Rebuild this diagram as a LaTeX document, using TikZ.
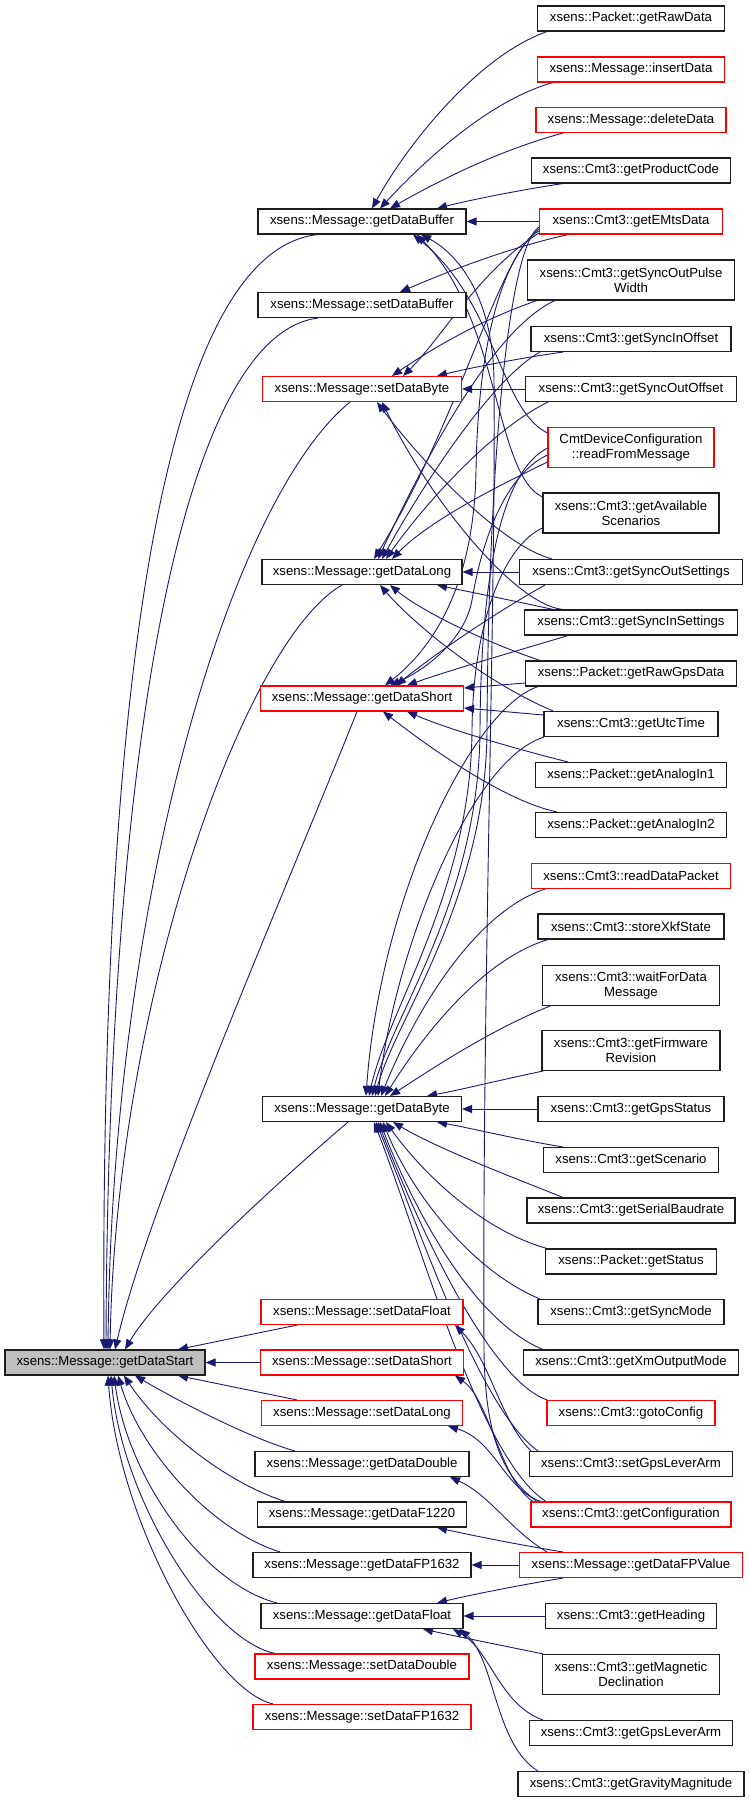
\documentclass[tikz,border=0pt]{standalone}
\usepackage{fontspec}
\newfontfamily\dfont{Liberation Sans}
\usetikzlibrary{arrows.meta}
\definecolor{edgeblue}{RGB}{25,25,112}
\definecolor{rootgray}{RGB}{191,191,191}
\definecolor{boxline}{RGB}{30,30,30}
\pgfdeclarelayer{bg}
\pgfsetlayers{bg,main}
\begin{document}
\begin{tikzpicture}[x=1pt,y=-1pt,
  fn/.style={draw=boxline,line width=1.1pt,fill=white,inner sep=0pt,minimum height=25pt,
    font=\dfont\fontsize{13.2}{14.7}\selectfont,align=center},
  fnred/.style={fn,draw=red},
  two/.style={minimum height=40pt},
  rootnode/.style={fn,fill=rootgray},
  e/.style={draw=edgeblue,line width=0.9pt,-{Triangle[length=10pt,width=8pt]}}
]
\useasboundingbox (0,0) rectangle (749,1803);
% root
\node[rootnode,minimum width=200pt] (R) at (105,1362.5) {xsens::Message::getDataStart};
% middle column
\node[fn,minimum width=208pt] (mGDBuf) at (362,221.5) {xsens::Message::getDataBuffer};
\node[fn,minimum width=208pt] (mSDBuf) at (362,305) {xsens::Message::setDataBuffer};
\node[fnred,minimum width=199pt] (mSDByte) at (362,389) {xsens::Message::setDataByte};
\node[fn,minimum width=200pt] (mGDLong) at (362,572) {xsens::Message::getDataLong};
\node[fnred,minimum width=203pt] (mGDShort) at (362,698.5) {xsens::Message::getDataShort};
\node[fn,minimum width=199pt] (mGDByte) at (362,1109) {xsens::Message::getDataByte};
\node[fnred,minimum width=202pt] (mSDFloat) at (362,1312) {xsens::Message::setDataFloat};
\node[fnred,minimum width=203pt] (mSDShort) at (362,1362.5) {xsens::Message::setDataShort};
\node[fnred,minimum width=201pt] (mSDLong) at (362,1413) {xsens::Message::setDataLong};
\node[fn,minimum width=214pt] (mGDDouble) at (362,1464) {xsens::Message::getDataDouble};
\node[fn,minimum width=209pt] (mGDF1220) at (362,1514.5) {xsens::Message::getDataF1220};
\node[fn,minimum width=218pt] (mGDFP1632) at (362,1565) {xsens::Message::getDataFP1632};
\node[fn,minimum width=202pt] (mGDFloat) at (362,1616) {xsens::Message::getDataFloat};
\node[fnred,minimum width=214pt] (mSDDouble) at (362,1666.5) {xsens::Message::setDataDouble};
\node[fnred,minimum width=218pt] (mSDFP1632) at (362,1717) {xsens::Message::setDataFP1632};
% right column
\node[fn,minimum width=187pt] (rRawData) at (631,18.5) {xsens::Packet::getRawData};
\node[fnred,minimum width=187pt] (rInsert) at (631,69.5) {xsens::Message::insertData};
\node[fnred,minimum width=190pt] (rDelete) at (631,120) {xsens::Message::deleteData};
\node[fn,minimum width=199pt] (rProdCode) at (631,170.5) {xsens::Cmt3::getProductCode};
\node[fnred,minimum width=183pt] (rEMts) at (631,221.5) {xsens::Cmt3::getEMtsData};
\node[fn,two,minimum width=207pt] (rSOPW) at (631,280) {xsens::Cmt3::getSyncOutPulse\\Width};
\node[fn,minimum width=200pt] (rSIOff) at (631,339) {xsens::Cmt3::getSyncInOffset};
\node[fn,minimum width=211pt] (rSOOff) at (631,389) {xsens::Cmt3::getSyncOutOffset};
\node[fnred,two,minimum width=166pt] (rRFM) at (631,447.5) {CmtDeviceConfiguration\\::readFromMessage};
\node[fn,two,minimum width=176pt] (rAvail) at (631,513) {xsens::Cmt3::getAvailable\\Scenarios};
\node[fn,minimum width=223pt] (rSOSet) at (631,572) {xsens::Cmt3::getSyncOutSettings};
\node[fn,minimum width=213pt] (rSISet) at (631,622.5) {xsens::Cmt3::getSyncInSettings};
\node[fn,minimum width=211pt] (rRawGps) at (631,673.5) {xsens::Packet::getRawGpsData};
\node[fn,minimum width=174pt] (rUtc) at (631,724) {xsens::Cmt3::getUtcTime};
\node[fn,minimum width=191pt] (rAn1) at (631,775) {xsens::Packet::getAnalogIn1};
\node[fn,minimum width=191pt] (rAn2) at (631,825) {xsens::Packet::getAnalogIn2};
\node[fnred,minimum width=199pt] (rRDP) at (631,876) {xsens::Cmt3::readDataPacket};
\node[fn,minimum width=186pt] (rXkf) at (631,926.5) {xsens::Cmt3::storeXkfState};
\node[fn,two,minimum width=177pt] (rWait) at (631,985.5) {xsens::Cmt3::waitForData\\Message};
\node[fn,two,minimum width=178pt] (rFirm) at (631,1050.5) {xsens::Cmt3::getFirmware\\Revision};
\node[fn,minimum width=186pt] (rGps) at (631,1109) {xsens::Cmt3::getGpsStatus};
\node[fn,minimum width=175pt] (rScen) at (631,1160) {xsens::Cmt3::getScenario};
\node[fn,minimum width=208pt] (rBaud) at (631,1210.5) {xsens::Cmt3::getSerialBaudrate};
\node[fn,minimum width=171pt] (rStatus) at (631,1261.5) {xsens::Packet::getStatus};
\node[fn,minimum width=186pt] (rSync) at (631,1312) {xsens::Cmt3::getSyncMode};
\node[fn,minimum width=215pt] (rXm) at (631,1362.5) {xsens::Cmt3::getXmOutputMode};
\node[fnred,minimum width=168pt] (rGoto) at (631,1413) {xsens::Cmt3::gotoConfig};
\node[fn,minimum width=203pt] (rSetLev) at (631,1464) {xsens::Cmt3::setGpsLeverArm};
\node[fnred,minimum width=200pt] (rConf) at (631,1514.5) {xsens::Cmt3::getConfiguration};
\node[fnred,minimum width=223pt] (rFPV) at (631,1565) {xsens::Message::getDataFPValue};
\node[fn,minimum width=171pt] (rHead) at (631,1616) {xsens::Cmt3::getHeading};
\node[fn,two,minimum width=177pt] (rMag) at (631,1674.5) {xsens::Cmt3::getMagnetic\\Declination};
\node[fn,minimum width=203pt] (rGetLev) at (631,1733) {xsens::Cmt3::getGpsLeverArm};
\node[fn,minimum width=226pt] (rGrav) at (631,1784) {xsens::Cmt3::getGravityMagnitude};

\begin{pgfonlayer}{bg}
% into root
\draw[e] (318,0 |- mGDBuf.south) .. controls (170,250) and (100,650) .. (104,0 |- R.north);
\draw[e] (318,0 |- mSDBuf.south) .. controls (180,335) and (108,760) .. (106,0 |- R.north);
\draw[e] (350,0 |- mSDByte.south) .. controls (230,500) and (112,900) .. (108,0 |- R.north);
\draw[e] (342,0 |- mGDLong.south) .. controls (245,640) and (116,1000) .. (110,0 |- R.north);
\draw[e] (357,0 |- mGDShort.south) .. controls (290,880) and (150,1200) .. (115,0 |- R.north);
\draw[e] (348,0 |- mGDByte.south) .. controls (280,1180) and (160,1290) .. (125,0 |- R.north);
\draw[e] (297,0 |- mSDFloat.south) -- (178,0 |- R.north);
\draw[e] (mSDShort.west) -- (R.east);
\draw[e] (297,0 |- mSDLong.north) -- (178,0 |- R.south);
\draw[e] (295,0 |- mGDDouble.north) .. controls (255,1440) and (185,1405) .. (135,0 |- R.south);
\draw[e] (285,0 |- mGDF1220.north) .. controls (225,1482) and (160,1430) .. (124,0 |- R.south);
\draw[e] (280,0 |- mGDFP1632.north) .. controls (210,1530) and (140,1450) .. (118,0 |- R.south);
\draw[e] (277,0 |- mGDFloat.north) .. controls (205,1585) and (128,1480) .. (114,0 |- R.south);
\draw[e] (275,0 |- mSDDouble.north) .. controls (210,1640) and (122,1500) .. (111,0 |- R.south);
\draw[e] (273,0 |- mSDFP1632.north) .. controls (212,1690) and (118,1520) .. (108,0 |- R.south);
% getDataBuffer
\draw[e] (547,0 |- rRawData.south) .. controls (480,55) and (410,140) .. (372,0 |- mGDBuf.north);
\draw[e] (553,0 |- rInsert.south) .. controls (490,100) and (425,160) .. (380,0 |- mGDBuf.north);
\draw[e] (563,0 |- rDelete.south) .. controls (500,150) and (440,180) .. (390,0 |- mGDBuf.north);
\draw[e] (563,0 |- rProdCode.south) .. controls (520,190) and (470,200) .. (437,0 |- mGDBuf.north);
\draw[e] (rEMts.west) -- (mGDBuf.east);
\draw[e] (rRFM.west |- 0,433) .. controls (500,410) and (495,300) .. (413,0 |- mGDBuf.south);
\draw[e] (rAvail.west |- 0,497) .. controls (495,475) and (500,320) .. (417,0 |- mGDBuf.south);
\draw[e] (537,0 |- rConf.north) .. controls (500,1475) and (485,1430) .. (484,1350) .. controls (482,1000) and (496,600) .. (494,380) .. controls (493,300) and (460,255) .. (421,0 |- mGDBuf.south);
% setDataBuffer
\draw[e] (568,0 |- rEMts.south) .. controls (500,250) and (440,275) .. (400,0 |- mSDBuf.north);
% setDataByte
\draw[e] (537,0 |- rSOPW.south) .. controls (480,320) and (430,350) .. (392,0 |- mSDByte.north);
\draw[e] (rEMts.west |- 0,233) .. controls (480,270) and (440,340) .. (403,0 |- mSDByte.north);
\draw[e] (563,0 |- rSIOff.south) .. controls (520,358) and (470,368) .. (437,0 |- mSDByte.north);
\draw[e] (rSOOff.west) -- (mSDByte.east);
\draw[e] (552,0 |- rSOSet.north) .. controls (500,545) and (420,460) .. (377,0 |- mSDByte.south);
\draw[e] (563,0 |- rSISet.north) .. controls (515,605) and (430,500) .. (382,0 |- mSDByte.south);
% getDataLong
\draw[e] (rEMts.west |- 0,231) .. controls (500,250) and (460,420) .. (374,0 |- mGDLong.north);
\draw[e] (555,0 |- rSOPW.south) .. controls (490,330) and (420,470) .. (378,0 |- mGDLong.north);
\draw[e] (540,0 |- rSIOff.south) .. controls (490,380) and (420,490) .. (382,0 |- mGDLong.north);
\draw[e] (548,0 |- rSOOff.south) .. controls (490,430) and (420,510) .. (386,0 |- mGDLong.north);
\draw[e] (rRFM.west |- 0,462) .. controls (500,485) and (430,520) .. (392,0 |- mGDLong.north);
\draw[e] (rSOSet.west) -- (mGDLong.east);
\draw[e] (553,0 |- rSISet.north) .. controls (510,600) and (470,592) .. (437,0 |- mGDLong.south);
\draw[e] (540,0 |- rRawGps.north) .. controls (480,640) and (420,610) .. (390,0 |- mGDLong.south);
\draw[e] (553,0 |- rUtc.north) .. controls (480,680) and (410,620) .. (380,0 |- mGDLong.south);
% getDataShort
\draw[e] (rEMts.west |- 0,229) .. controls (500,260) and (478,350) .. (476,470) .. controls (474,590) and (430,650) .. (385,0 |- mGDShort.north);
\draw[e] (rRFM.west |- 0,455) .. controls (505,475) and (482,540) .. (472,600) .. controls (465,640) and (425,670) .. (390,0 |- mGDShort.north);
\draw[e] (545,0 |- rSOSet.south) .. controls (500,610) and (440,650) .. (396,0 |- mGDShort.north);
\draw[e] (568,0 |- rSISet.south) .. controls (520,650) and (450,670) .. (407,0 |- mGDShort.north);
\draw[e] (rRawGps.west |- 0,683) -- (mGDShort.east |- 0,688);
\draw[e] (rUtc.west |- 0,715) -- (mGDShort.east |- 0,708);
\draw[e] (568,0 |- rAn1.north) .. controls (520,750) and (450,730) .. (407,0 |- mGDShort.south);
\draw[e] (557,0 |- rAn2.north) .. controls (500,800) and (420,740) .. (383,0 |- mGDShort.south);
% getDataByte
\draw[e] (rEMts.west |- 0,227) .. controls (505,250) and (488,500) .. (487,730) .. controls (486,900) and (395,1020) .. (375,0 |- mGDByte.north);
\draw[e] (rRFM.west |- 0,448) .. controls (505,470) and (481,560) .. (480,730) .. controls (479,900) and (392,1015) .. (372,0 |- mGDByte.north);
\draw[e] (rAvail.west |- 0,528) .. controls (505,545) and (473,620) .. (472,730) .. controls (471,890) and (388,1010) .. (369,0 |- mGDByte.north);
\draw[e] (538,0 |- rRawGps.south) .. controls (470,710) and (380,900) .. (366,0 |- mGDByte.north);
\draw[e] (544,0 |- rUtc.south) .. controls (470,760) and (395,950) .. (378,0 |- mGDByte.north);
\draw[e] (545,0 |- rRDP.south) .. controls (480,910) and (420,1000) .. (381,0 |- mGDByte.north);
\draw[e] (548,0 |- rXkf.south) .. controls (480,960) and (420,1040) .. (385,0 |- mGDByte.north);
\draw[e] (550,0 |- rWait.south) .. controls (490,1030) and (430,1070) .. (390,0 |- mGDByte.north);
\draw[e] (543,0 |- rFirm.south) .. controls (500,1080) and (460,1090) .. (427,0 |- mGDByte.north);
\draw[e] (rGps.west) -- (mGDByte.east);
\draw[e] (563,0 |- rScen.north) .. controls (520,1140) and (470,1128) .. (437,0 |- mGDByte.south);
\draw[e] (563,0 |- rBaud.north) .. controls (520,1180) and (440,1150) .. (393,0 |- mGDByte.south);
\draw[e] (547,0 |- rStatus.north) .. controls (480,1230) and (420,1170) .. (386,0 |- mGDByte.south);
\draw[e] (540,0 |- rSync.north) .. controls (470,1270) and (410,1190) .. (383,0 |- mGDByte.south);
\draw[e] (543,0 |- rXm.north) .. controls (470,1320) and (410,1200) .. (380,0 |- mGDByte.south);
\draw[e] (547,0 |- rGoto.north) .. controls (490,1380) and (420,1230) .. (378,0 |- mGDByte.south);
\draw[e] (538,0 |- rSetLev.north) .. controls (480,1410) and (420,1230) .. (376,0 |- mGDByte.south);
\draw[e] (546,0 |- rConf.north) .. controls (480,1460) and (420,1240) .. (374,0 |- mGDByte.south);
% setDataFloat / Short / Long
\draw[e] (531,0 |- rSetLev.north) .. controls (500,1420) and (490,1360) .. (455,0 |- mSDFloat.south);
\draw[e] (533,0 |- rConf.north) .. controls (500,1480) and (490,1400) .. (455,0 |- mSDShort.south);
\draw[e] (541,0 |- rConf.north) .. controls (505,1490) and (495,1440) .. (448,0 |- mSDLong.south);
% getDataFPValue
\draw[e] (547,0 |- rFPV.north) .. controls (510,1530) and (490,1495) .. (450,0 |- mGDDouble.south);
\draw[e] (563,0 |- rFPV.north) .. controls (520,1545) and (470,1535) .. (437,0 |- mGDF1220.south);
\draw[e] (rFPV.west) -- (mGDFP1632.east);
\draw[e] (563,0 |- rFPV.south) .. controls (520,1585) and (470,1595) .. (437,0 |- mGDFloat.north);
% getDataFloat
\draw[e] (rHead.west) -- (mGDFloat.east);
\draw[e] (543,0 |- rMag.north) .. controls (500,1645) and (450,1635) .. (423,0 |- mGDFloat.south);
\draw[e] (543,0 |- rGetLev.north) .. controls (500,1705) and (490,1650) .. (453,0 |- mGDFloat.south);
\draw[e] (538,0 |- rGrav.north) .. controls (495,1745) and (495,1660) .. (460,0 |- mGDFloat.south);
\end{pgfonlayer}
\end{tikzpicture}
\end{document}
